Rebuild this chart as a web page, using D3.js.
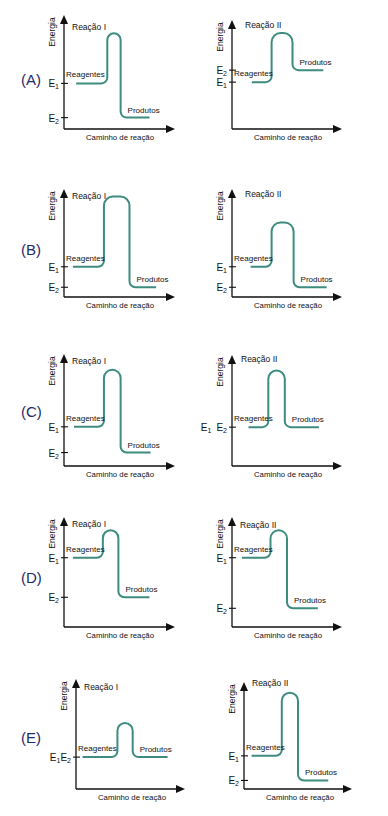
<!DOCTYPE html>
<html>
<head>
<meta charset="utf-8">
<script src="https://cdn.jsdelivr.net/npm/d3@7"></script>
<style>
  body { margin: 0; background: #fff; }
  text { font-family: "Liberation Sans", Arial, sans-serif; fill: #111; }
</style>
</head>
<body>
<div id="chart"></div>
<script>
// options and reactions
const options = ["A", "B", "C", "D", "E"];
const reactions = ["Reação I", "Reação II"];

// energies: 0 = x axis, 100 = arrow tip of the y axis; [reação I, reação II]
const e1 = [[40, 43], [28, 28], [35, 35], [63, 63], [29, 31]];
const e2 = [[10, 54], [9, 9], [12, 35], [27, 17], [29, 8]];
const peak = [[84, 88], [93, 69], [86, 86], [88, 88], [60, 90]];

// reaction path: 0 = y axis, 100 = arrow tip of the x axis
const pathStart = [[11, 18], [8, 17], [9, 15], [8, 9], [6, 7]];
const riseAt = [[39, 36], [36, 36], [36, 33], [35, 35], [38, 35]];
const fallAt = [[51, 55], [59, 56], [51, 48], [49, 50], [52, 50]];
const pathEnd = [[77, 83], [83, 86], [78, 79], [77, 78], [84, 78]];

// layout of each little chart (pixels)
const frames = [
  [{ x0: 64, y0: 129, top: 15, right: 175, ry: 15 }, { x0: 232, y0: 129, top: 20, right: 342, ry: 8, rx: 13 }],
  [{ x0: 64, y0: 297, top: 189, right: 175, ry: 10 }, { x0: 232, y0: 297, top: 189, right: 342, ry: 8, rx: 13 }],
  [{ x0: 64, y0: 466, top: 354, right: 175, ry: 10 }, { x0: 232, y0: 466, top: 355, right: 342, ry: 7, rx: 9, gap: 5 }],
  [{ x0: 64, y0: 627, top: 517, right: 175, ry: 10 }, { x0: 232, y0: 627, top: 517, right: 342, ry: 11 }],
  [{ x0: 76, y0: 789, top: 679, right: 185, ry: 11, gap: 0 }, { x0: 244, y0: 789, top: 682, right: 352, ry: 4 }]
];
const optionY = [80, 250, 412, 578, 738];

const W = 388, H = 816;
const lineColor = "#3d8c7f";

const svg = d3.select("#chart").append("svg")
  .attr("width", W).attr("height", H);

// "E" with a subscript number
function eLabel(sel, nums, gap) {
  nums.forEach((n, k) => {
    sel.append("tspan").attr("font-size", 10)
      .attr("dx", k > 0 ? gap : null).attr("dy", k > 0 ? -2 : null).text("E");
    sel.append("tspan").attr("font-size", 7).attr("dy", 2).text(n);
  });
}

options.forEach((opt, i) => {
  svg.append("text")
    .attr("x", 21).attr("y", optionY[i])
    .attr("dy", "0.36em")
    .attr("font-size", 15)
    .style("fill", "#1d2b6b")
    .text(`(${opt})`);

  reactions.forEach((reac, j) => {
    const f = frames[i][j];
    const x = d3.scaleLinear().domain([0, 100]).range([f.x0, f.right]);
    const y = d3.scaleLinear().domain([0, 100]).range([f.y0, f.top]);
    const g = svg.append("g");

    // axes
    g.append("path")
      .attr("d", `M${x(0)},${y(0)}V${y(100) + 6}M${x(0)},${y(0)}H${x(100) - 6}`)
      .attr("stroke", "#111").attr("stroke-width", 1.3).attr("fill", "none");
    g.append("path")
      .attr("d", `M${x(0)},${y(100)}l-4,9h8z`)
      .attr("fill", "#111");
    g.append("path")
      .attr("d", `M${x(100)},${y(0)}l-9,-4v8z`)
      .attr("fill", "#111");

    // ticks
    const levels = e1[i][j] === e2[i][j] ? [e1[i][j]] : [e1[i][j], e2[i][j]];
    levels.forEach(v => {
      g.append("line")
        .attr("x1", x(0) - 3).attr("x2", x(0) + 4)
        .attr("y1", y(v)).attr("y2", y(v))
        .attr("stroke", "#111").attr("stroke-width", 1.1);
    });
    if (levels.length === 1) {
      eLabel(g.append("text").attr("x", x(0) - 5).attr("y", y(e1[i][j]) + 4)
        .attr("text-anchor", "end"), ["1", "2"], f.gap || 0);
    } else {
      eLabel(g.append("text").attr("x", x(0) - 5).attr("y", y(e1[i][j]) + 4)
        .attr("text-anchor", "end"), ["1"], 0);
      eLabel(g.append("text").attr("x", x(0) - 5).attr("y", y(e2[i][j]) + 4)
        .attr("text-anchor", "end"), ["2"], 0);
    }

    // axis titles
    g.append("text")
      .attr("transform", `translate(${x(0) - 9},${y(100) + 17}) rotate(-90)`)
      .attr("text-anchor", "middle")
      .attr("font-size", 8.5)
      .text("Energia");
    g.append("text")
      .attr("x", x(0) + 56).attr("y", y(0) + 11)
      .attr("text-anchor", "middle")
      .attr("font-size", 7.8)
      .text("Caminho de reação");
    g.append("text")
      .attr("x", x(0) + (f.rx || 8)).attr("y", y(100) + f.ry)
      .attr("font-size", 8.5)
      .text(reac);

    // reaction curve
    const xs = x(pathStart[i][j]), xr = x(riseAt[i][j]),
          xf = x(fallAt[i][j]), xe = x(pathEnd[i][j]);
    const y1 = y(e1[i][j]), y2 = y(e2[i][j]), yp = y(peak[i][j]);
    const rt = Math.min((xf - xr) / 2, 9), rb = 6;
    const p = d3.path();
    p.moveTo(xs, y1);
    p.arcTo(xr, y1, xr, yp, rb);
    p.arcTo(xr, yp, xf, yp, rt);
    p.arcTo(xf, yp, xf, y2, rt);
    p.arcTo(xf, y2, xe, y2, rb);
    p.lineTo(xe, y2);
    g.append("path")
      .attr("d", p.toString())
      .attr("fill", "none")
      .attr("stroke", lineColor)
      .attr("stroke-width", 2);

    g.append("text")
      .attr("x", x(0) + 2).attr("y", y1 - 6)
      .attr("font-size", 8)
      .text("Reagentes");
    g.append("text")
      .attr("x", xf + 7).attr("y", y2 - 5)
      .attr("font-size", 8)
      .text("Produtos");
  });
});
</script>
</body>
</html>
